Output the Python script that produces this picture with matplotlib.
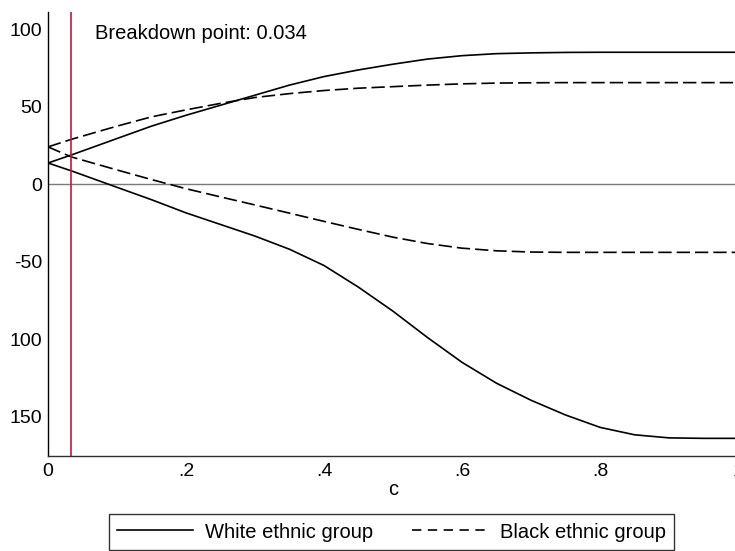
import matplotlib.pyplot as plt
from matplotlib.lines import Line2D

plt.rcParams['font.family'] = ['Liberation Sans', 'DejaVu Sans']

# sensitivity parameter c
c_vals = [0, 0.034, 0.1, 0.15, 0.2, 0.25, 0.3, 0.35, 0.4, 0.45, 0.5,
          0.55, 0.6, 0.65, 0.7, 0.75, 0.8, 0.85, 0.9, 0.95, 1.0]

# White ethnic group bounds
white_upper = [13.7, 18.9, 29.5, 37.5, 44.5, 51.0, 57.5, 64.0, 69.5, 73.8, 77.5,
               80.8, 83.0, 84.3, 84.8, 85.1, 85.2, 85.2, 85.2, 85.2, 85.2]
white_lower = [13.7, 8.6, -2.0, -10.0, -18.5, -26.0, -33.5, -42.0, -52.5, -66.5, -82.0,
               -99.0, -115.0, -128.5, -139.5, -149.0, -157.0, -161.8, -163.8, -164.1, -164.1]

# Black ethnic group bounds
black_upper = [24.1, 29.0, 37.5, 43.5, 48.0, 52.2, 56.0, 58.5, 60.5, 62.0, 63.0,
               64.0, 64.8, 65.3, 65.5, 65.6, 65.6, 65.6, 65.6, 65.6, 65.6]
black_lower = [24.1, 17.6, 9.2, 3.0, -2.9, -8.2, -13.4, -18.7, -24.0, -29.2, -34.2,
               -38.3, -41.3, -43.0, -43.8, -44.0, -44.0, -44.0, -44.0, -44.0, -44.0]

breakdown = 0.034

x_ticks = [0, 0.2, 0.4, 0.6, 0.8, 1.0]
x_tick_labels = ['0', '.2', '.4', '.6', '.8', '1']
y_ticks = [100, 50, 0, -50, -100, -150]
y_tick_labels = ['100', '50', '0', '-50', '100', '150']

fig = plt.figure(figsize=(7.35, 5.51), dpi=100)
ax = fig.add_axes([48 / 735, 1 - 456 / 551, 690 / 735, 444 / 551])

dash = (0, (8, 3))
ax.plot(c_vals, white_upper, color='black', lw=1.2)
ax.plot(c_vals, white_lower, color='black', lw=1.2)
ax.plot(c_vals, black_upper, color='black', lw=1.2, linestyle=dash)
ax.plot(c_vals, black_lower, color='black', lw=1.2, linestyle=dash)

# reference lines
ax.axhline(0, color='#7a7a7a', lw=1.0, zorder=0)
ax.axvline(breakdown, color='#c8143c', lw=1.2)

ax.text(0.068, 97.4, 'Breakdown point: 0.034', fontsize=14.5, va='center', ha='left')

ax.set_xlim(0, 1)
ax.set_ylim(-175.5, 111.2)
ax.set_xticks(x_ticks)
ax.set_xticklabels(x_tick_labels)
ax.set_yticks(y_ticks)
ax.set_yticklabels(y_tick_labels)
ax.tick_params(length=0, labelsize=14)
ax.tick_params(axis='y', pad=4)
ax.tick_params(axis='x', pad=5)
ax.set_xlabel('c', fontsize=14.5, labelpad=0)

for side in ['top', 'right']:
    ax.spines[side].set_visible(False)
ax.spines['left'].set_linewidth(1.0)
ax.spines['bottom'].set_linewidth(1.0)
ax.spines['bottom'].set_color('#303030')

handles = [Line2D([], [], color='black', lw=1.2),
           Line2D([], [], color='black', lw=1.2, linestyle=(0, (5.6, 3.9)))]
leg = fig.legend(handles, ['White ethnic group', 'Black ethnic group'],
                 loc='center', bbox_to_anchor=(391.5 / 735, 1 - 532 / 551),
                 ncol=2, fontsize=14.5, frameon=True, fancybox=False,
                 handlelength=3.8, handletextpad=0.6, columnspacing=1.9,
                 borderpad=0.4)
leg.get_frame().set_edgecolor('black')
leg.get_frame().set_linewidth(1.0)

fig.savefig('out.png', dpi=100, facecolor='white')
